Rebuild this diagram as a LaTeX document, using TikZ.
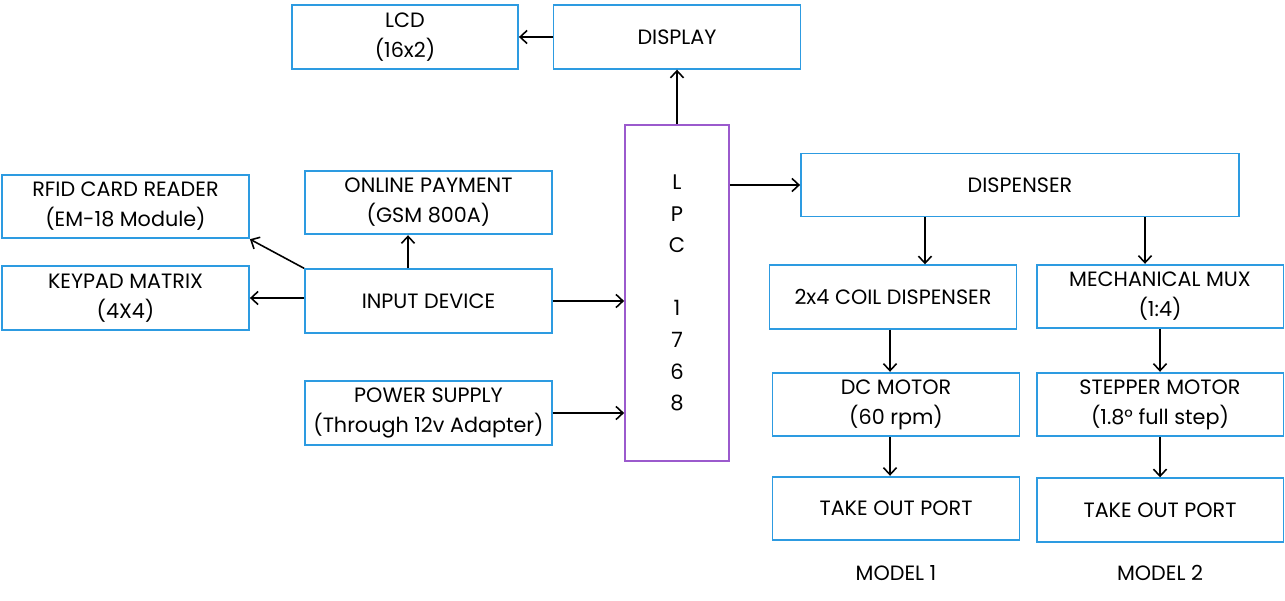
\documentclass[tikz,border=0pt]{standalone}
\usepackage{fontspec}
\setmainfont{Poppins}
\usepackage{tikz}
\usetikzlibrary{arrows.meta}

\definecolor{boxblue}{RGB}{45,155,225}
\definecolor{lpcpurple}{RGB}{155,90,205}

\begin{document}
\begin{tikzpicture}[x=0.02cm,y=-0.02cm,font=\fontsize{11.8}{17}\selectfont]

		% Define styles
		\tikzstyle{block} = [
		rectangle, draw=boxblue, line width=1.1pt, text centered,
		align=center, inner sep=0pt]
		\tikzstyle{wide} = [block, minimum width=4.94cm, minimum height=1.27cm]
		\tikzstyle{ctrl} = [
		rectangle, draw=lpcpurple, line width=1pt, align=center,
		minimum width=2.08cm, minimum height=6.72cm, inner sep=0pt,
		font=\fontsize{12}{18}\selectfont]
		\tikzstyle{arrow} = [line width=0.9pt,->,>={Straight Barb[length=4pt,width=7.5pt]}]

		\useasboundingbox (0,0) rectangle (1285,601);

		% Nodes
		\node (lcd) [block, minimum width=4.52cm, minimum height=1.28cm] at (405,37) {LCD\\(16x2)};
		\node (display) [wide] at (677,37) {DISPLAY};
		\node (lpc) [ctrl] at (677,293) {L\\P\\C\\ \\1\\7\\6\\8};
		\node (dispenser) [block, minimum width=8.76cm, minimum height=1.26cm] at (1020,185) {DISPENSER};

		\node (rfid) [wide] at (125.5,206.5) {RFID CARD READER\\(EM-18 Module)};
		\node (keypad) [wide] at (125.5,298) {KEYPAD MATRIX\\(4X4)};
		\node (online) [wide] at (428.5,202.5) {ONLINE PAYMENT\\(GSM 800A)};
		\node (input) [wide] at (428.5,301) {INPUT DEVICE};
		\node (power) [wide] at (428.5,413) {POWER SUPPLY\\(Through 12v Adapter)};

		\node (coil) [wide] at (893,297) {2x4 COIL DISPENSER};
		\node (mux) [wide] at (1160,296.5) {MECHANICAL MUX\\(1:4)};
		\node (dcmotor) [wide] at (896,404.5) {DC MOTOR\\(60 rpm)};
		\node (stepper) [wide] at (1160,404.5) {STEPPER MOTOR\\(1.8\textdegree{} full step)};
		\node (port1) [wide] at (896,508.5) {TAKE OUT PORT};
		\node (port2) [wide] at (1160,510) {TAKE OUT PORT};

		\node (model1) at (896,573) {MODEL 1};
		\node (model2) at (1160,573) {MODEL 2};

		% Arrows
		\draw [arrow] (display.west) -- (lcd.east);
		\draw [arrow] (lpc.north) -- (display.south);
		\draw [arrow] (lpc.east |- dispenser.west) -- (dispenser.west);
		\draw [arrow] (input.north west) -- (rfid.south east);
		\draw [arrow] (input.west |- keypad.east) -- (keypad.east);
		\draw [arrow] ([xshift=-0.41cm]input.north) -- ([xshift=-0.41cm]online.south);
		\draw [arrow] (input.east) -- (input.east -| lpc.west);
		\draw [arrow] (power.east) -- (power.east -| lpc.west);
		\draw [arrow] ([xshift=0.64cm]coil.north |- dispenser.south) -- ([xshift=0.64cm]coil.north);
		\draw [arrow] ([xshift=-0.3cm]mux.north |- dispenser.south) -- ([xshift=-0.3cm]mux.north);
		\draw [arrow] ([xshift=-0.06cm]coil.south) -- ([xshift=-0.06cm]coil.south |- dcmotor.north);
		\draw [arrow] ([xshift=-0.12cm]dcmotor.south) -- ([xshift=-0.12cm]port1.north);
		\draw [arrow] (mux.south) -- (stepper.north);
		\draw [arrow] (stepper.south) -- (port2.north);
	\end{tikzpicture}
\end{document}
